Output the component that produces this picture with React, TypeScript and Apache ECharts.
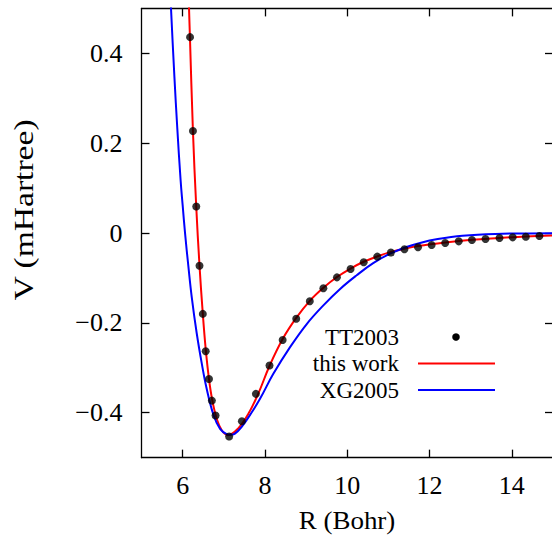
import React, { useEffect, useRef } from "react";
import * as echarts from "echarts";

const xTicks = [6, 8, 10, 12, 14];
const yTicks = [-0.4, -0.2, 0, 0.2, 0.4];
const xRange = [5, 15];
const yRange = [-0.5, 0.5];

const legendNames = ["TT2003", "this work", "XG2005"];
const xTitle = "R (Bohr)";
const yTitle = "V (mHartree)";

const tt2003 = [
  [6.18, 0.436], [6.25, 0.227], [6.33, 0.059], [6.41, -0.073], [6.49, -0.18],
  [6.56, -0.263], [6.64, -0.325], [6.71, -0.373], [6.8, -0.406], [7.13, -0.453],
  [7.44, -0.419], [7.78, -0.358], [8.11, -0.295], [8.43, -0.238], [8.76, -0.191],
  [9.09, -0.152], [9.42, -0.123], [9.75, -0.0987], [10.08, -0.08], [10.4, -0.065],
  [10.73, -0.0525], [11.06, -0.0435], [11.39, -0.036], [11.72, -0.0316], [12.05, -0.0267],
  [12.38, -0.0223], [12.71, -0.0185], [13.03, -0.0156], [13.36, -0.0134], [13.7, -0.0111],
  [14.02, -0.0096], [14.34, -0.0082], [14.67, -0.0067],
];

const thisWork = [
  [6.12, 0.62], [6.155, 0.5], [6.177, 0.436], [6.25, 0.227], [6.33, 0.059],
  [6.41, -0.073], [6.49, -0.18], [6.56, -0.258], [6.64, -0.325], [6.72, -0.372],
  [6.83, -0.414], [6.95, -0.439], [7.1, -0.45], [7.35, -0.435], [7.6, -0.402],
  [7.84, -0.357], [8.11, -0.296], [8.43, -0.236], [8.76, -0.189], [9.09, -0.151],
  [9.42, -0.122], [9.75, -0.098], [10.08, -0.079], [10.4, -0.064], [10.73, -0.052],
  [11.06, -0.042], [11.39, -0.035], [11.72, -0.029], [12.38, -0.021], [13.03, -0.015],
  [13.69, -0.011], [14.34, -0.0075], [15.0, -0.0055],
];

const xg2005 = [
  [5.66, 0.615], [5.717, 0.5], [5.8, 0.347], [5.87, 0.233], [5.95, 0.118],
  [6.0, 0.062], [6.06, -0.002], [6.14, -0.075], [6.22, -0.142], [6.34, -0.222],
  [6.46, -0.288], [6.58, -0.345], [6.75, -0.405], [6.91, -0.436], [7.07, -0.4475],
  [7.17, -0.449], [7.27, -0.4465], [7.43, -0.432], [7.68, -0.399], [7.88, -0.369],
  [8.2, -0.314], [8.61, -0.254], [9.02, -0.202], [9.42, -0.161], [9.82, -0.125],
  [10.23, -0.094], [10.63, -0.067], [11.04, -0.046], [11.44, -0.031], [11.77, -0.022],
  [12.2, -0.0135], [12.8, -0.006], [13.6, -0.002], [15.0, -0.0003],
];

const colors = { dots: "#000000", red: "#ff0000", blue: "#0000ff", axis: "#000000" };
const FONT = "Liberation Serif";

const fmt = (v: number) => {
  const r = Math.round(v * 10) / 10;
  const s = (r === 0 ? 0 : r).toString();
  return s.replace("-", "\u2212");
};

export default function App() {
  const ref = useRef<HTMLDivElement>(null);
  useEffect(() => {
    if (!ref.current) return;
    const chart = echarts.init(ref.current, null, { renderer: "svg" });
    const gridLeft = 141.5;
    const gridTop = 8.4;
    const gridW = 411.5;
    const gridH = 449.25;

    const axisLine = { show: true, onZero: false, lineStyle: { color: colors.axis, width: 1.3 } };
    const tickStyle = { color: colors.axis, width: 1.3 };

    const legendX = 399;
    const rows = [337, 363.5, 390];
    const legendGraphics: any[] = [];
    legendNames.forEach((name, i) => {
      legendGraphics.push({
        type: "text",
        x: legendX,
        y: rows[i],
        style: {
          text: name,
          fontFamily: FONT,
          fontSize: 23,
          fill: "#000",
          align: "right",
          verticalAlign: "middle",
        },
      });
    });
    legendGraphics.push({
      type: "circle",
      shape: { cx: 456, cy: rows[0], r: 3.8 },
      style: { fill: colors.dots },
    });
    legendGraphics.push({
      type: "line",
      shape: { x1: 418, y1: rows[1], x2: 495, y2: rows[1] },
      style: { stroke: colors.red, lineWidth: 2 },
    });
    legendGraphics.push({
      type: "line",
      shape: { x1: 418, y1: rows[2], x2: 495, y2: rows[2] },
      style: { stroke: colors.blue, lineWidth: 2 },
    });

    chart.setOption({
      animation: false,
      backgroundColor: "#ffffff",
      textStyle: { fontFamily: FONT },
      grid: {
        left: gridLeft,
        top: gridTop,
        width: gridW,
        height: gridH,
        containLabel: false,
        outerBoundsMode: "none",
      },
      xAxis: [
        {
          type: "value",
          min: xRange[0],
          max: xRange[1],
          position: "bottom",
          axisLine,
          splitLine: { show: false },
          axisTick: { show: true, inside: true, length: 8, lineStyle: tickStyle, customValues: xTicks },
          axisLabel: {
            show: true,
            customValues: xTicks,
            formatter: (v: number) => fmt(v),
            fontFamily: FONT,
            fontSize: 26,
            color: "#000",
            margin: 15,
          },
        },
        {
          type: "value",
          min: xRange[0],
          max: xRange[1],
          position: "top",
          axisLine,
          splitLine: { show: false },
          axisTick: { show: true, inside: true, length: 8, lineStyle: tickStyle, customValues: xTicks },
          axisLabel: { show: false },
        },
      ],
      yAxis: [
        {
          type: "value",
          min: yRange[0],
          max: yRange[1],
          position: "left",
          axisLine,
          splitLine: { show: false },
          axisTick: { show: true, inside: true, length: 8, lineStyle: tickStyle, customValues: yTicks },
          axisLabel: {
            show: true,
            customValues: yTicks,
            formatter: (v: number) => fmt(v),
            fontFamily: FONT,
            fontSize: 26,
            color: "#000",
            margin: 19,
          },
        },
        {
          type: "value",
          min: yRange[0],
          max: yRange[1],
          position: "right",
          axisLine,
          splitLine: { show: false },
          axisTick: { show: true, inside: true, length: 8, lineStyle: tickStyle, customValues: yTicks },
          axisLabel: { show: false },
        },
      ],
      series: [
        {
          name: legendNames[1],
          type: "line",
          data: thisWork,
          showSymbol: false,
          smooth: 0.4,
          lineStyle: { color: colors.red, width: 2 },
          clip: true,
          z: 2,
        },
        {
          name: legendNames[2],
          type: "line",
          data: xg2005,
          showSymbol: false,
          smooth: 0.4,
          lineStyle: { color: colors.blue, width: 2 },
          clip: true,
          z: 3,
        },
        {
          name: legendNames[0],
          type: "scatter",
          data: tt2003,
          symbol: "circle",
          symbolSize: 8,
          itemStyle: { color: colors.dots },
          clip: true,
          z: 4,
        },
      ],
      graphic: [
        ...legendGraphics,
        {
          type: "text",
          x: 347,
          y: 521,
          scaleX: 1.08,
          style: {
            text: xTitle,
            fontFamily: FONT,
            fontSize: 25,
            fill: "#000",
            align: "center",
            verticalAlign: "middle",
          },
        },
        {
          type: "text",
          x: 23,
          y: 210,
          rotation: Math.PI / 2,
          scaleX: 1.2,
          style: {
            text: yTitle,
            fontFamily: FONT,
            fontSize: 28,
            fill: "#000",
            align: "center",
            verticalAlign: "middle",
          },
        },
      ],
    });
    return () => chart.dispose();
  }, []);
  return (
    <div
      ref={ref}
      style={{ position: "absolute", left: 0, top: 0, width: 552, height: 537, background: "#fff" }}
    />
  );
}
